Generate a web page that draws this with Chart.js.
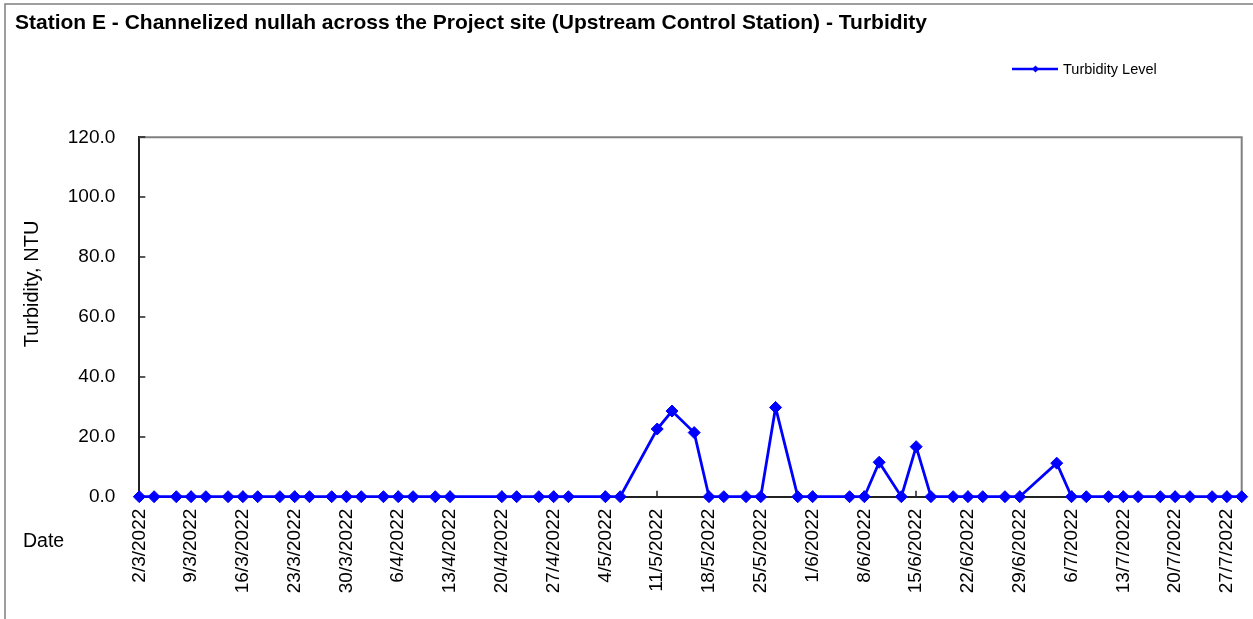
<!DOCTYPE html>
<html><head><meta charset="utf-8">
<script src="https://cdn.jsdelivr.net/npm/chart.js@4.4.1/dist/chart.umd.min.js"></script>
<style>html,body{margin:0;padding:0;background:#fff}#wrap{width:1253px;height:619px}</style>
</head><body><div id="wrap"><canvas id="c" width="1253" height="619"></canvas></div>
<script>
// ---- data ----
const chartTitle = 'Station E - Channelized nullah across the Project site (Upstream Control Station) - Turbidity';
const seriesName = 'Turbidity Level';
const yAxisTitle = 'Turbidity, NTU';
const xAxisTitle = 'Date';
const axisStart = '2/3/2022';
const axisEnd = '29/7/2022';
const tickStepDays = 7;
const yTickValues = [0, 20, 40, 60, 80, 100, 120];
const sampleDates = [
  '2/3/2022','4/3/2022','7/3/2022','9/3/2022','11/3/2022','14/3/2022','16/3/2022','18/3/2022',
  '21/3/2022','23/3/2022','25/3/2022','28/3/2022','30/3/2022',
  '1/4/2022','4/4/2022','6/4/2022','8/4/2022','11/4/2022','13/4/2022','20/4/2022','22/4/2022',
  '25/4/2022','27/4/2022','29/4/2022',
  '4/5/2022','6/5/2022','11/5/2022','13/5/2022','16/5/2022','18/5/2022','20/5/2022','23/5/2022',
  '25/5/2022','27/5/2022','30/5/2022',
  '1/6/2022','6/6/2022','8/6/2022','10/6/2022','13/6/2022','15/6/2022','17/6/2022','20/6/2022',
  '22/6/2022','24/6/2022','27/6/2022','29/6/2022',
  '4/7/2022','6/7/2022','8/7/2022','11/7/2022','13/7/2022','15/7/2022','18/7/2022','20/7/2022',
  '22/7/2022','25/7/2022','27/7/2022','29/7/2022'
];
const turbidity = [
  0,0,0,0,0,0,0,0,
  0,0,0,0,0,
  0,0,0,0,0,0,0,0,
  0,0,0,
  0,0,22.6,28.6,21.4,0,0,0,
  0,29.8,0,
  0,0,0,11.5,0,16.7,0,0,
  0,0,0,0,
  11.2,0,0,0,0,0,0,0,
  0,0,0,0
];

// ---- helpers ----
const DAY = 86400000;
function parseDMY(s){ const [d,m,y] = s.split('/').map(Number); return Date.UTC(y, m-1, d); }
const t0 = parseDMY(axisStart);
function dayOf(s){ return Math.round((parseDMY(s) - t0) / DAY); }
function labelOf(day){ const d = new Date(t0 + day*DAY); return d.getUTCDate() + '/' + (d.getUTCMonth()+1) + '/' + d.getUTCFullYear(); }
const points = sampleDates.map((s,i) => ({x: dayOf(s), y: turbidity[i]}));

const FONT = '"Liberation Sans", Arial, sans-serif';
const BLUE = '#0000FF';

const decor = {
  id: 'decor',
  beforeDraw(chart){
    const ctx = chart.ctx;
    ctx.save();
    ctx.fillStyle = '#fff';
    ctx.fillRect(0,0,chart.width,chart.height);
    ctx.strokeStyle = '#7f7f7f';
    ctx.lineWidth = 1.5;
    ctx.strokeRect(5, 4, chart.width + 20, chart.height + 20);
    ctx.restore();
  },
  beforeDatasetsDraw(chart){
    const ctx = chart.ctx, a = chart.chartArea;
    const xs = chart.scales.x, ys = chart.scales.y;
    ctx.save();
    ctx.strokeStyle = '#808080';
    ctx.lineWidth = 2;
    ctx.beginPath();
    ctx.moveTo(a.left, a.top); ctx.lineTo(a.right, a.top); ctx.lineTo(a.right, a.bottom);
    ctx.stroke();
    ctx.strokeStyle = '#222';
    ctx.lineWidth = 1.5;
    ctx.beginPath();
    xs.ticks.forEach(t => { const px = Math.round(xs.getPixelForValue(t.value)); ctx.moveTo(px, a.bottom); ctx.lineTo(px, a.bottom - 6); });
    ys.ticks.forEach(t => { const py = Math.round(ys.getPixelForValue(t.value)); ctx.moveTo(a.left, py); ctx.lineTo(a.left + 6, py); });
    ctx.stroke();
    ctx.restore();
  },
  afterDraw(chart){
    const ctx = chart.ctx;
    ctx.save();
    ctx.fillStyle = '#000';
    ctx.font = '20px ' + FONT;
    ctx.translate(32, 284);
    ctx.rotate(-Math.PI/2);
    ctx.textAlign = 'center'; ctx.textBaseline = 'middle';
    ctx.fillText(yAxisTitle, 0, 0);
    ctx.restore();
    ctx.save();
    ctx.fillStyle = '#000';
    ctx.font = '19.5px ' + FONT;
    ctx.textAlign = 'left'; ctx.textBaseline = 'middle';
    ctx.fillText(xAxisTitle, 23, 542);
    const ly = 69;
    ctx.strokeStyle = BLUE; ctx.lineWidth = 2.5;
    ctx.beginPath(); ctx.moveTo(1012, ly); ctx.lineTo(1058, ly); ctx.stroke();
    ctx.fillStyle = BLUE;
    ctx.beginPath();
    const cx = 1035.5, r = 3.5;
    ctx.moveTo(cx - r, ly); ctx.lineTo(cx, ly - r); ctx.lineTo(cx + r, ly); ctx.lineTo(cx, ly + r); ctx.closePath(); ctx.fill();
    ctx.fillStyle = '#000';
    ctx.font = '14.5px ' + FONT;
    ctx.fillText(chart.data.datasets[0].label, 1063, ly + 1);
    ctx.restore();
  }
};

new Chart(document.getElementById('c'), {
  type: 'line',
  data: {
    datasets: [{
      label: seriesName,
      data: points,
      borderColor: BLUE,
      backgroundColor: BLUE,
      borderWidth: 2.8,
      pointStyle: 'rectRot',
      pointRadius: 6,
      pointHoverRadius: 6,
      pointBackgroundColor: BLUE,
      pointBorderColor: BLUE,
      pointBorderWidth: 1,
      tension: 0,
      clip: false
    }]
  },
  options: {
    responsive: false,
    animation: false,
    devicePixelRatio: 1,
    layout: { padding: { left: 15, right: 11.3, top: 0, bottom: 0 } },
    plugins: {
      legend: { display: false },
      tooltip: { enabled: false },
      title: {
        display: true,
        text: chartTitle,
        align: 'start',
        color: '#000',
        font: { family: FONT, size: 21, weight: 'bold', lineHeight: 1.2 },
        padding: { top: 10.4, bottom: 101.7 }
      }
    },
    scales: {
      x: {
        type: 'linear',
        min: dayOf(axisStart),
        max: dayOf(axisEnd),
        afterFit(s){ s.height = 122.3; s.paddingLeft = 0; s.paddingRight = 0; },
        grid: { display: false, drawTicks: false },
        border: { display: true, color: '#222', width: 2 },
        ticks: {
          stepSize: tickStepDays,
          includeBounds: false,
          autoSkip: false,
          minRotation: 90,
          maxRotation: 90,
          padding: 12,
          color: '#000',
          font: { family: FONT, size: 19 },
          callback: v => labelOf(v)
        }
      },
      y: {
        min: yTickValues[0],
        max: yTickValues[yTickValues.length-1],
        afterFit(s){ s.width = 124.3; },
        afterBuildTicks(s){ s.ticks = yTickValues.map(v => ({value: v})); },
        grid: { display: false, drawTicks: false },
        border: { display: true, color: '#222', width: 2 },
        ticks: {
          padding: 24,
          color: '#000',
          font: { family: FONT, size: 19 },
          callback: v => Number(v).toFixed(1)
        }
      }
    }
  },
  plugins: [decor]
});
</script>
</body></html>
